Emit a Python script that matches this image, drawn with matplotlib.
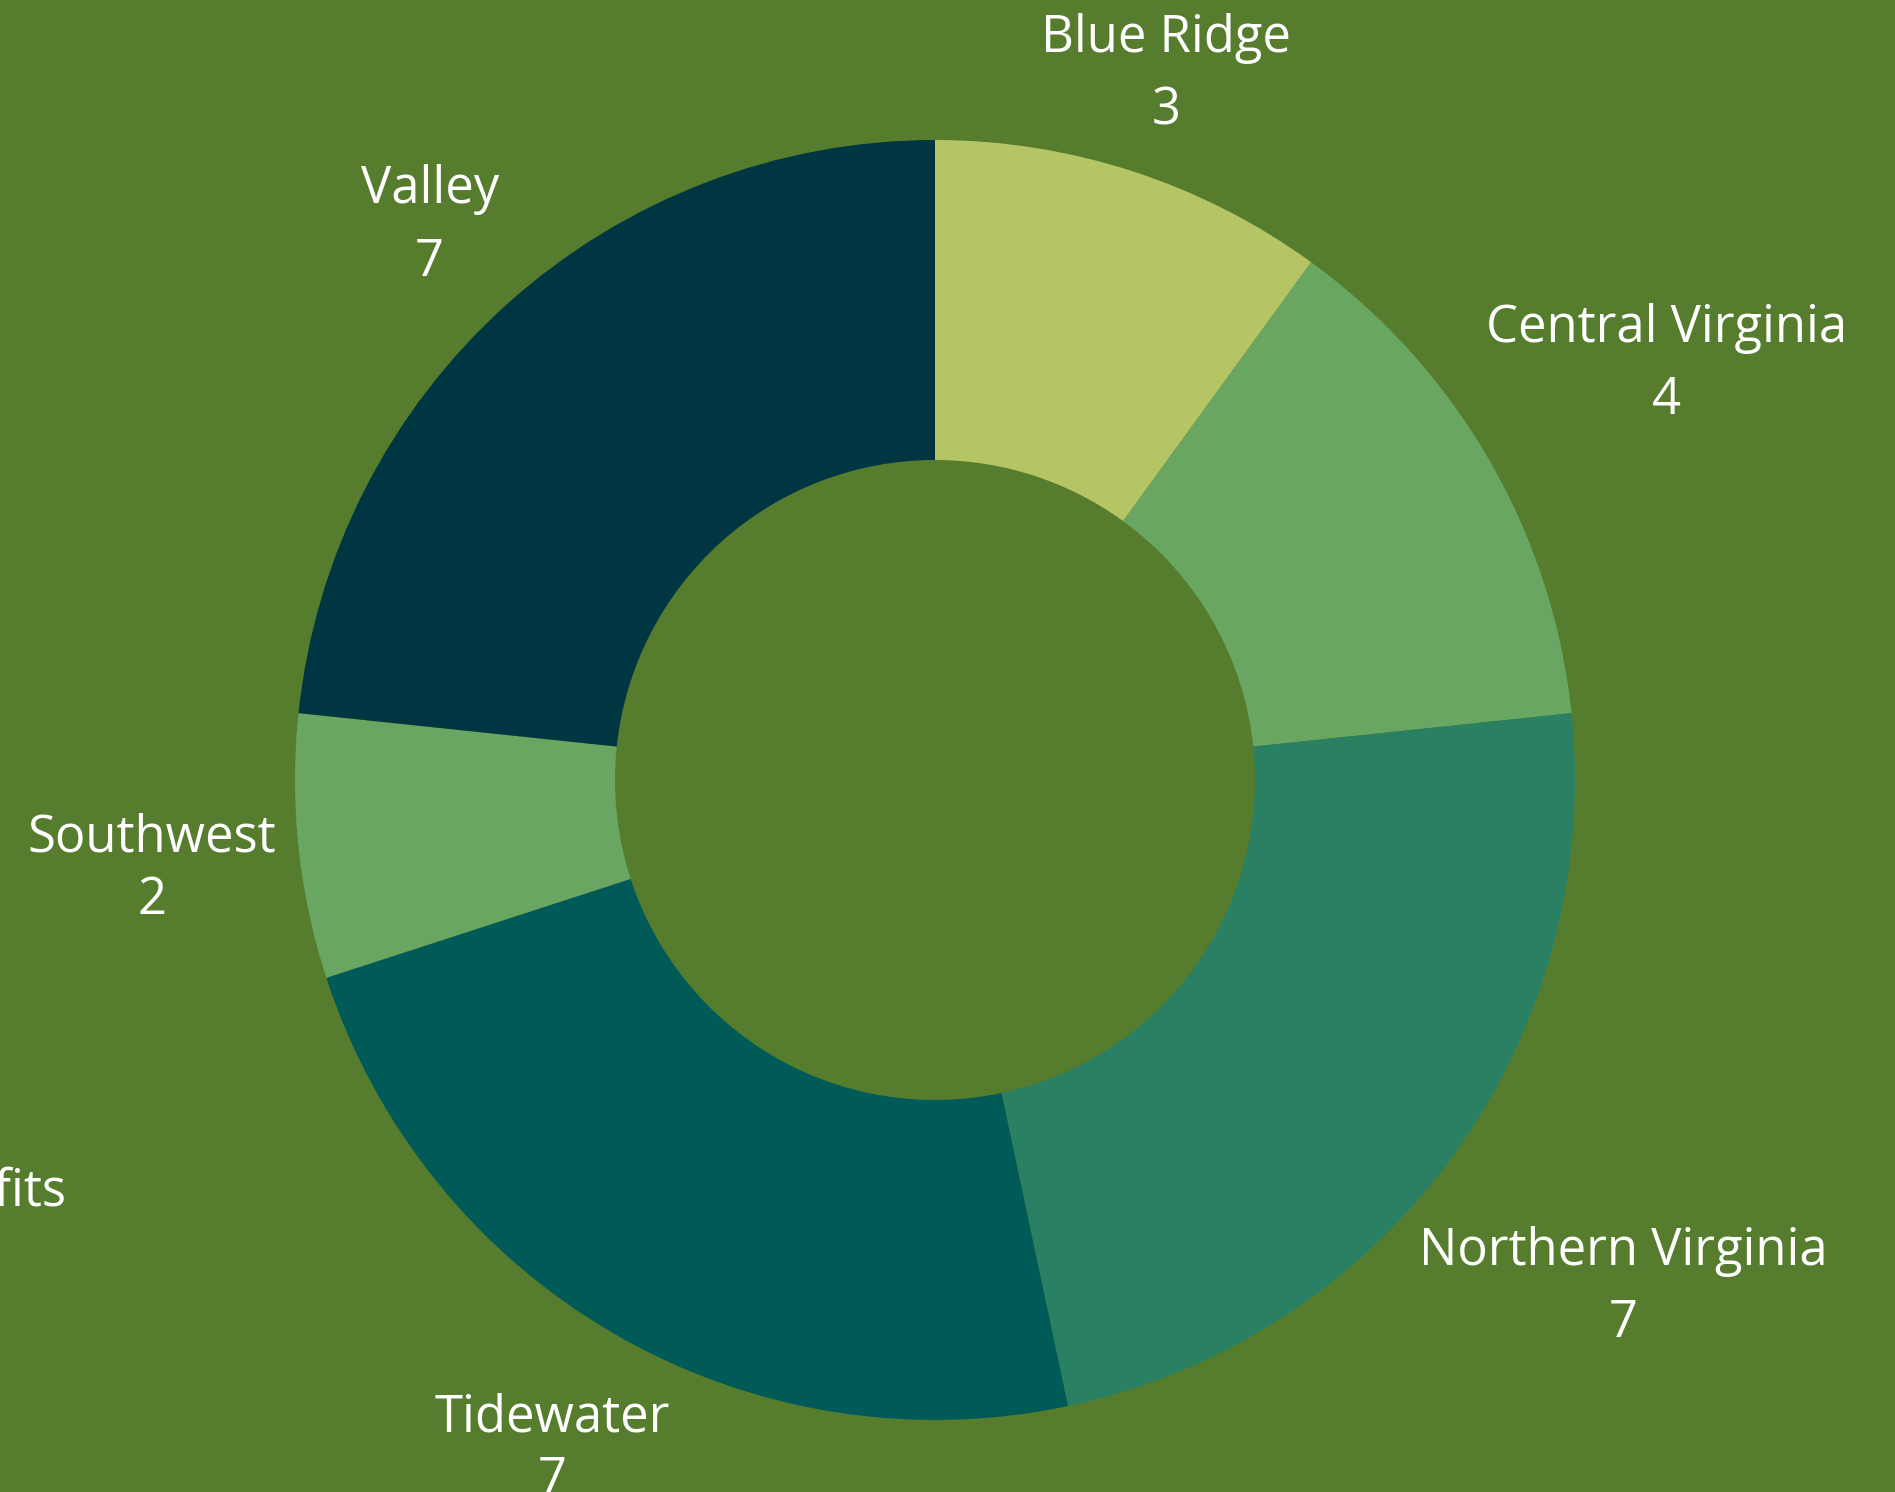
import numpy as np
import matplotlib.pyplot as plt

plt.rcParams['font.family'] = ['Open Sans', 'DejaVu Sans']

regions = ["Blue Ridge", "Central Virginia", "Northern Virginia", "Tidewater", "Southwest", "Valley"]
counts = [3, 4, 7, 7, 2, 7]
colors = ["#B5C566", "#68A662", "#2A8063", "#005A57", "#68A662", "#003542"]
label_dist = [1.17, 1.32, 1.33, 1.195, 1.23, 1.18]
label_spacing = [1.55, 1.55, 1.55, 1.28, 1.28, 1.55]

bg = "#567D2E"
W, H = 1895, 1492
cx, cy, R = 935, 712, 640

fig = plt.figure(figsize=(W / 100, H / 100), dpi=100, facecolor=bg)
ax = fig.add_axes([0, 0, 1, 1])
ax.set_facecolor(bg)

wedges, _ = ax.pie(counts, colors=colors, startangle=90, counterclock=False,
                   center=(cx, cy), radius=R,
                   wedgeprops=dict(width=R * 0.5, linewidth=0))

# pie resets limits, so set pixel limits afterwards
ax.set_xlim(0, W)
ax.set_ylim(0, H)
ax.set_aspect('equal')
ax.set_axis_off()

# labels placed along each wedge's mid angle
for w, name, n, d, ls in zip(wedges, regions, counts, label_dist, label_spacing):
    mid = np.deg2rad((w.theta1 + w.theta2) / 2)
    x = cx + R * d * np.cos(mid)
    y = cy + R * d * np.sin(mid) - 7
    ax.text(x, y, f"{name}\n{n}", ha='center', va='center', color='white',
            fontsize=36.5, linespacing=ls)

# title cut off by the left edge
ax.text(66, H - 1192, "Benefits", ha='right', va='center', color='white', fontsize=36.5)

fig.savefig("out.png", dpi=100, facecolor=bg)
